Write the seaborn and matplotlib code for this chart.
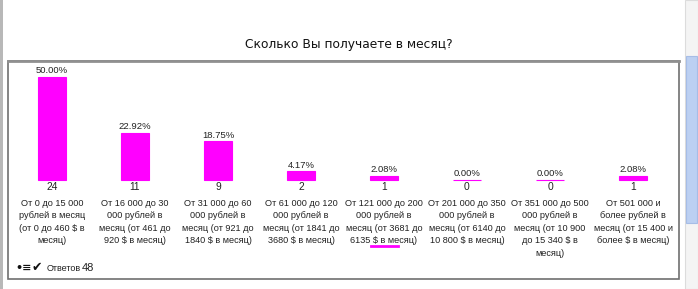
import matplotlib
matplotlib.use("Agg")
import matplotlib.pyplot as plt
import seaborn as sns
import pandas as pd
from matplotlib.patches import Rectangle
from matplotlib.lines import Line2D

categories = [
    "От 0 до 15 000\nрублей в месяц\n(от 0 до 460 $ в\nмесяц)",
    "От 16 000 до 30\n000 рублей в\nмесяц (от 461 до\n920 $ в месяц)",
    "От 31 000 до 60\n000 рублей в\nмесяц (от 921 до\n1840 $ в месяц)",
    "От 61 000 до 120\n000 рублей в\nмесяц (от 1841 до\n3680 $ в месяц)",
    "От 121 000 до 200\n000 рублей в\nмесяц (от 3681 до\n6135 $ в месяц)",
    "От 201 000 до 350\n000 рублей в\nмесяц (от 6140 до\n10 800 $ в месяц)",
    "От 351 000 до 500\n000 рублей в\nмесяц (от 10 900\nдо 15 340 $ в\nмесяц)",
    "От 501 000 и\nболее рублей в\nмесяц (от 15 400 и\nболее $ в месяц)",
]
counts = [24, 11, 9, 2, 1, 0, 0, 1]
percents = [50.00, 22.92, 18.75, 4.17, 2.08, 0.00, 0.00, 2.08]
total_answers = 48
title = "Сколько Вы получаете в месяц?"

W, H = 698, 289
fig = plt.figure(figsize=(W / 100, H / 100), dpi=100)
fig.patch.set_facecolor("white")

def fx(px):
    return px / W

def fy(py):
    return 1 - py / H

# page decorations: left strip, outer box, scrollbar
fig.add_artist(Rectangle((0, 0), fx(3), 1, transform=fig.transFigure,
                         facecolor="#b8b8b8", edgecolor="none"))
fig.add_artist(Rectangle((fx(8), fy(279)), fx(671), fy(61) - fy(279),
                         transform=fig.transFigure, facecolor="none",
                         edgecolor="#707070", linewidth=1.2))
fig.add_artist(Line2D([fx(8), fx(679)], [fy(61), fy(61)], transform=fig.transFigure,
                      color="#909090", linewidth=2))
fig.add_artist(Rectangle((fx(685), 0), fx(13), 1, transform=fig.transFigure,
                         facecolor="#f4f4f4", edgecolor="#dcdcdc", linewidth=0.8))
fig.add_artist(Rectangle((fx(686), fy(223)), fx(11), fy(56) - fy(223),
                         transform=fig.transFigure, facecolor="#bcd0f2",
                         edgecolor="#a6bde6", linewidth=0.8))

fig.text(0.5, fy(45), title, ha="center", va="center", fontsize=8.8,
         family="DejaVu Sans", color="#111111")

df = pd.DataFrame({"cat": list(range(len(categories))), "pct": percents})

left_px = 10.5
slot = 83
ax = fig.add_axes([fx(left_px), fy(180), fx(slot * len(categories)), fy(77) - fy(180)])
ax.patch.set_alpha(0)
sns.barplot(data=df, x="cat", y="pct", ax=ax, color="#ff00ff", saturation=1,
            width=0.33, edgecolor="#ff00ff", linewidth=0.8, native_scale=False)
for patch in ax.patches:
    patch.set_clip_on(False)
ax.set_xlim(-0.5, len(categories) - 0.5)
ax.set_ylim(0, 50)
ax.axis("off")

fs = 6.6
font = "Liberation Sans"
for i, (p, c, lab) in enumerate(zip(percents, counts, categories)):
    ax.annotate(f"{p:.2f}%", (i, p), xytext=(0, 1.2), textcoords="offset points",
                ha="center", va="bottom", fontsize=fs + 0.2, family=font, color="#222222",
                annotation_clip=False)
    ax.annotate(str(c), (i, 0), xytext=(0, -1.2), textcoords="offset points",
                ha="center", va="top", fontsize=fs + 0.8, family=font, color="#222222",
                annotation_clip=False)
    ax.annotate(lab, (i, 0), xytext=(0, -13.5), textcoords="offset points",
                ha="center", va="top", fontsize=fs, family=font, color="#222222",
                linespacing=1.5, annotation_clip=False)

# stray magenta underline seen under the fifth label
fig.add_artist(Line2D([fx(371), fx(398)], [fy(246), fy(246)], transform=fig.transFigure,
                      color="#ff00ff", linewidth=2))

fig.text(fx(15), fy(268), "•≡", ha="left", va="center", fontsize=8,
         family="DejaVu Sans", color="#111111", fontweight="bold")
fig.text(fx(32), fy(268), "✔", ha="left", va="center", fontsize=9,
         family="DejaVu Sans", color="#111111")
fig.text(fx(47), fy(268.5), "Ответов", ha="left", va="center", fontsize=6.5,
         family=font, color="#222222")
fig.text(fx(82), fy(268), str(total_answers), ha="left", va="center", fontsize=8,
         family=font, color="#222222")

fig.savefig("out.png", dpi=100, facecolor="white")
